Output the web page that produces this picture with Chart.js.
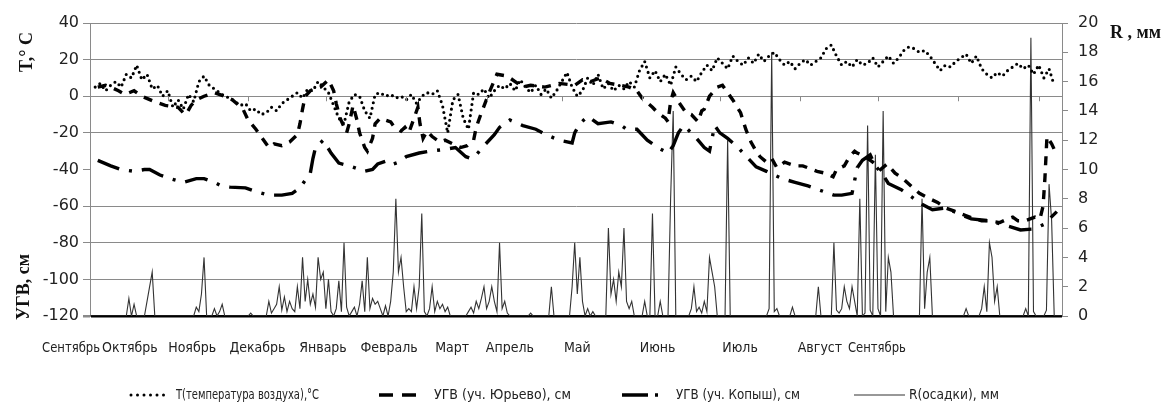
<!DOCTYPE html>
<html>
<head>
<meta charset="utf-8">
<script src="https://cdn.jsdelivr.net/npm/chart.js@4.4.1/dist/chart.umd.min.js"></script>
<style>
  body { margin: 0; background: #fff; }
  #wrap { width: 1170px; height: 408px; position: relative; }
</style>
</head>
<body>
<div id="wrap"><canvas id="chart"></canvas></div>
<script>
// days counted from 1 September
const monthNames = ['Сентябрь', 'Октябрь', 'Ноябрь', 'Декабрь', 'Январь', 'Февраль', 'Март', 'Апрель', 'Май', 'Июнь', 'Июль', 'Август', 'Сентябрь'];
const monthLabelDays = [-7.3, 15.4, 39.4, 64.6, 89.9, 115.4, 139.7, 162, 188, 219, 250.8, 281.6, 303.6];
const monthStartDays = [30, 61, 91, 122, 153, 182, 213, 243, 274, 304, 335, 366];

const leftTicks = [40, 20, 0, -20, -40, -60, -80, -100, -120];
const rightTicks = [0, 2, 4, 6, 8, 10, 12, 14, 16, 18, 20];

// air temperature, every second day from day 2
const tFirstDay = 2, tStep = 2;
const tVals = [5, 7, 3, 6, 8, 5, 12, 10, 17, 9, 12, 4, 6, 0, 3, -6, -2, -7, 1, -3,
  8, 11, 6, 4, 2, 0, -1, -3, -5, -4, -8, -7, -10, -9, -6, -8, -4, -2, 0, 2,
  -1, 4, 3, 8, 5, 2, -5, -12, -15, -3, 1, 0, -8, -12, 1, 2, 0, 1, -1, 0,
  -2, 1, -4, 0, 2, 1, 3, -5, -20, -2, 1, -12, -18, 2, 1, 4, -1, 3, 6, 4,
  7, 3, 9, 5, 2, 6, 1, 4, -1, 3, 8, 13, 5, 0, 3, 10, 6, 12, 4, 7,
  3, 6, 4, 8, 5, 14, 19, 10, 14, 8, 12, 6, 16, 12, 9, 11, 8, 13, 17, 14,
  21, 18, 15, 22, 19, 17, 21, 18, 23, 19, 22, 24, 20, 17, 19, 15, 18, 20, 17, 19,
  21, 26, 28, 22, 17, 19, 16, 20, 17, 18, 21, 16, 19, 22, 18, 21, 25, 27, 26, 24,
  25, 22, 18, 14, 17, 16, 19, 21, 23, 18, 22, 15, 12, 10, 13, 11, 14, 16, 18, 15,
  17, 12, 17, 10, 15, 6];

// groundwater level, Yuryevo
const yurDays = [3, 6, 8, 11, 13.5, 17, 20, 25, 29, 34, 36, 37, 39, 41, 44, 48, 52, 55, 59, 61,
  64, 66, 69, 71, 74, 77, 80, 81, 82, 83, 85, 89, 92, 94, 95, 96.5, 99, 100, 101.5, 103,
  104, 106, 107, 109, 110, 112, 116, 117, 120, 121.5, 123, 126.5, 127.3, 128.5, 130, 132, 135, 137, 143, 145.5,
  148, 149, 151, 154, 157, 161, 164, 167, 170, 175.5, 181, 187, 190, 193, 197, 200.6, 204.5, 208, 211, 213,
  217, 219, 222, 223, 224, 225, 227, 230, 232, 234.6, 236, 237, 239, 242, 244, 246, 248, 251, 253, 255,
  257, 258.5, 261, 263, 265, 268, 272, 275, 280.5, 283.6, 286.7, 288, 291, 293, 295, 296, 299, 302, 305, 307.5,
  310.6, 313.7, 317.5, 320, 324, 327, 330, 334, 337.6, 341.4, 344, 347, 351, 354, 356, 358, 360.7, 362.7, 364.6, 366.5,
  367.7, 368.4, 369.2, 371, 373];
const yurVals = [5, 6, 5, 3, 1, 3, 0, -3, -5, -6, -9, -10, -5, -2, 0, 2, 0, -2, -7, -13,
  -18, -22, -28, -26, -27, -25, -21, -15, -7, 0, 3, 5, 9, 3, -4, -12, -20, -15, -5, -13,
  -20, -28, -30, -23, -15, -12, -14, -16, -19, -17, -20, -6, -15, -23, -19, -22, -25, -24, -28, -27,
  -24, -17, -9, 2, 12, 11, 8, 5, 6, 5, 7, 6, 9, 8, 10, 7, 6, 5, 3, -1,
  -6, -9, -12, -14, -3, 2, -3, -9, -10, -14, -8, -7, 0, 5, 6, 2, -2, -9, -18, -25,
  -30, -33, -36, -34, -39, -36, -38, -38, -41, -42, -44, -40, -38, -33, -30, -31, -33, -36, -40, -37,
  -42, -45, -50, -53, -56, -58, -61, -63, -65, -67, -68, -68, -69, -67, -66, -68, -68, -67, -66, -67,
  -60, -45, -22, -26, -32];

// groundwater level, Kopysh
const kopDays = [3, 8, 12, 17, 21, 23, 27, 31, 36, 41, 44, 48, 50, 54, 60, 64, 69, 74, 78, 81,
  83, 85, 86, 87, 90, 93, 96, 100, 106, 109, 111, 115, 117, 119, 122, 127, 131, 137, 141, 145,
  147, 149, 152, 156, 158, 162, 167, 172, 176, 181, 186, 187, 189, 192, 196, 201, 205, 207, 211, 215,
  219, 223, 225, 227, 229, 232, 234, 237, 239, 241, 243, 246, 250, 254, 257, 261, 267, 272, 277, 283,
  287, 290, 294, 296, 298, 301, 303, 306, 308, 313, 317, 321, 325, 330, 335, 340, 347, 352, 359, 364,
  368, 373];
const kopVals = [-35, -38, -40, -41, -40, -40, -43, -45, -47, -45, -45, -47, -48.5, -49.6, -50, -52, -54, -54, -53, -50,
  -46, -42, -34, -28, -24, -31, -36.5, -38, -41, -40, -37, -35, -37, -36, -33, -31, -30, -29, -28, -33,
  -34, -32, -27, -21, -17, -13, -16, -18, -21, -24, -25.5, -20, -15, -11, -15, -14, -16, -18, -18, -24,
  -28, -31, -27, -20, -16, -20, -23, -28, -30, -16, -20, -23, -28, -34, -38.6, -41, -45, -47, -49, -52,
  -54, -54, -53, -39, -35, -32, -38, -43, -47.6, -51, -55, -59, -62, -61, -64, -67, -68, -70, -73, -72.5,
  -70, -63];

// precipitation, mm
const rDays = [0, 14, 15, 16, 17, 18, 21, 22, 23, 24, 25,
  40, 41, 42, 43, 44, 45, 47, 48, 49, 50, 51, 52, 61, 62, 63,
  68, 69, 70, 71, 72, 73, 74, 75, 76, 77, 78, 79, 80, 81, 82, 83, 84, 85, 86, 87, 88, 89, 90, 91, 92, 93, 94,
  95, 96, 97, 98, 99, 100, 101, 102, 103, 104, 105, 106, 107, 108, 109, 110, 111, 112, 113, 114, 115,
  116, 117, 118, 119, 120, 121, 122, 123, 124, 125, 126, 127, 128, 129, 130, 131, 132, 133, 134, 135, 136, 137, 138, 139,
  145, 146, 147, 148, 149, 150, 151, 152, 153, 154, 155, 156, 157, 158, 159, 160, 161, 162,
  169, 170, 171, 177, 178, 179,
  185, 186, 187, 188, 189, 190, 191, 192, 193, 194, 195,
  199, 200, 201, 202, 203, 204, 205, 206, 207, 208, 209, 210,
  213, 214, 215, 216, 217, 218, 219, 220, 221, 223, 224, 225, 226,
  231, 232, 233, 234, 235, 236, 237, 238, 239, 240, 241, 242, 245, 246, 247,
  261, 262, 263, 264, 265, 266, 270, 271, 272, 280, 281, 282,
  286, 287, 288, 289, 290, 291, 292, 293, 294, 295, 296, 297, 298, 299, 300, 301, 302, 303, 304, 305, 306, 307, 308, 309, 310,
  320, 321, 322, 323, 324, 325, 337, 338, 339,
  343, 344, 345, 346, 347, 348, 349, 350, 351,
  360, 361, 362, 363, 364, 365, 368, 369, 370, 371, 372, 375];
const rVals = [0, 0, 1.2, 0, 0.8, 0, 0, 1.0, 2, 3.0, 0,
  0, 0.6, 0.3, 1.5, 4.0, 0, 0, 0.5, 0, 0.3, 0.8, 0, 0, 0.2, 0,
  0, 1.0, 0.2, 0.5, 0.8, 2.0, 0.4, 1.3, 0.3, 1.0, 0.5, 0.3, 2.0, 0.5, 4.0, 1.0, 2.5, 0.8, 1.5, 0.6, 4.0, 2.5, 3.0, 0.5, 2.5, 0.3, 0,
  0.5, 2.4, 0.3, 5.0, 0.6, 0, 0.3, 0.6, 0, 0.8, 2.4, 0.3, 4.0, 0.5, 1.2, 0.8, 1.0, 0.5, 0, 0.7, 0,
  1.0, 3.0, 8.0, 3.0, 4.0, 2.0, 0.3, 0.5, 0.3, 2.0, 0.5, 2.0, 7.0, 0.3, 0, 0.5, 2.0, 0.3, 1.0, 0.5, 0.8, 0.3, 0.6, 0,
  0, 0.3, 0.6, 0.2, 1.0, 0.5, 1.2, 2.0, 0.5, 1.0, 2.0, 1.0, 0.3, 5.0, 0.5, 1.0, 0.2, 0,
  0, 0.2, 0, 0, 2.0, 0,
  0, 2.0, 5.0, 1.5, 4.0, 1.0, 0, 0.5, 0, 0.3, 0,
  0, 6.0, 1.5, 2.5, 1.0, 3.0, 2.0, 6.0, 1.0, 0.5, 1.0, 0,
  0, 1.0, 0, 0, 7.0, 0, 0, 1.0, 0, 0, 8.0, 14.0, 0,
  0, 0.5, 2.0, 0.3, 0.6, 0.2, 1.0, 0.3, 4.0, 3.0, 2.0, 0, 0, 12.0, 0,
  0, 0.5, 18.0, 0.3, 0.5, 0, 0, 0.6, 0, 0, 2.0, 0,
  0, 5.0, 0.4, 0.2, 0.5, 2.0, 1.0, 0.5, 2.0, 1.0, 0, 8.0, 0, 0.2, 13.0, 0.4, 0, 11.0, 0.5, 0, 14.0, 0.3, 4.0, 3.0, 0,
  0, 8.0, 0.5, 3.0, 4.0, 0, 0, 0.5, 0,
  0, 0.5, 2.0, 0.3, 5.0, 4.0, 1.0, 2.0, 0,
  0, 0.5, 0, 19.0, 0.3, 0, 0, 0.4, 9.0, 6.5, 0, 0];

const legendNames = ['Т(температура воздуха),°С', 'УГВ (уч. Юрьево), см', 'УГВ (уч. Копыш), см', 'R(осадки), мм'];

const pairs = (xs, ys) => xs.map((x, i) => ({ x: x, y: ys[i] }));
const tData = tVals.map((v, i) => ({ x: tFirstDay + i * tStep, y: v }));

const narrowFont = '"DejaVu Sans Condensed", "Liberation Sans", sans-serif';

const textPlugin = {
    id: 'texts',
    afterDraw(chart) {
        const ctx = chart.ctx;
        const xs = chart.scales.x, ys = chart.scales.y;
        ctx.save();

        // small tick marks on the zero line
        const zeroY = ys.getPixelForValue(0);
        ctx.strokeStyle = '#8a8a8a';
        ctx.lineWidth = 1;
        monthStartDays.forEach(d => {
            const px = Math.round(xs.getPixelForValue(d)) + 0.5;
            ctx.beginPath();
            ctx.moveTo(px, zeroY);
            ctx.lineTo(px, zeroY + 5);
            ctx.stroke();
        });

        // month labels
        ctx.fillStyle = '#222';
        ctx.font = '14px ' + narrowFont;
        ctx.textAlign = 'center';
        ctx.textBaseline = 'middle';
        monthNames.forEach((m, i) => {
            ctx.fillText(m, xs.getPixelForValue(monthLabelDays[i]), 348, 58);
        });

        // axis titles
        ctx.font = 'bold 18px "Liberation Serif", "DejaVu Serif", serif';
        ctx.fillStyle = '#111';
        ctx.save();
        ctx.translate(27, 52);
        ctx.rotate(-Math.PI / 2);
        ctx.fillText('T,° C', 0, 0);
        ctx.restore();
        ctx.save();
        ctx.translate(24, 287);
        ctx.rotate(-Math.PI / 2);
        ctx.fillText('УГВ, см', 0, 0);
        ctx.restore();
        ctx.textAlign = 'left';
        ctx.fillText('R , мм', 1110, 33);

        // legend
        const ly = 395;
        ctx.font = '14px ' + narrowFont;
        ctx.textAlign = 'left';
        ctx.fillStyle = '#222';
        ctx.strokeStyle = '#000';

        ctx.lineWidth = 3;
        ctx.lineCap = 'round';
        ctx.setLineDash([0, 6.5]);
        ctx.beginPath(); ctx.moveTo(131, ly); ctx.lineTo(170, ly); ctx.stroke();
        ctx.fillText(legendNames[0], 176, ly, 143);

        ctx.lineWidth = 3.4;
        ctx.lineCap = 'butt';
        ctx.setLineDash([14, 9]);
        ctx.beginPath(); ctx.moveTo(379, ly); ctx.lineTo(425, ly); ctx.stroke();
        ctx.fillText(legendNames[1], 434, ly, 140);

        ctx.setLineDash([26, 7, 3, 20]);
        ctx.beginPath(); ctx.moveTo(622, ly); ctx.lineTo(660, ly); ctx.stroke();
        ctx.fillText(legendNames[2], 676, ly, 124);

        ctx.setLineDash([]);
        ctx.lineWidth = 1.2;
        ctx.strokeStyle = '#333';
        ctx.beginPath(); ctx.moveTo(854, ly); ctx.lineTo(905, ly); ctx.stroke();
        ctx.fillText(legendNames[3], 909, ly, 90);

        ctx.restore();
    }
};

const tickFont = { family: '"DejaVu Sans", sans-serif', size: 16 };

new Chart(document.getElementById('chart'), {
    type: 'line',
    data: {
        datasets: [
            {
                label: legendNames[0],
                data: tData,
                borderColor: '#000',
                borderWidth: 3.1,
                borderDash: [0, 5.6],
                borderCapStyle: 'round',
                pointRadius: 0,
                yAxisID: 'y',
                order: 1
            },
            {
                label: legendNames[1],
                data: pairs(yurDays, yurVals),
                borderColor: '#000',
                borderWidth: 3.4,
                borderDash: [9, 8],
                pointRadius: 0,
                yAxisID: 'y',
                order: 2
            },
            {
                label: legendNames[2],
                data: pairs(kopDays, kopVals),
                borderColor: '#000',
                borderWidth: 3.4,
                borderDash: [23, 10, 3, 10],
                pointRadius: 0,
                yAxisID: 'y',
                order: 3
            },
            {
                label: legendNames[3],
                data: pairs(rDays, rVals),
                borderColor: '#333',
                borderWidth: 1.1,
                pointRadius: 0,
                yAxisID: 'y2',
                order: 4
            }
        ]
    },
    options: {
        responsive: true,
        maintainAspectRatio: false,
        animation: false,
        events: [],
        layout: { padding: { top: 23, left: 0, right: 0, bottom: 0 } },
        plugins: {
            legend: { display: false },
            tooltip: { enabled: false }
        },
        scales: {
            x: {
                type: 'linear',
                min: 0,
                max: 375,
                ticks: { display: false },
                grid: { display: false },
                border: { display: false },
                afterFit: s => { s.height = 92; }
            },
            y: {
                position: 'left',
                min: -120,
                max: 40,
                afterBuildTicks: s => { s.ticks = leftTicks.map(v => ({ value: v })); },
                ticks: { color: '#222', font: tickFont, padding: 4 },
                grid: {
                    color: c => c.tick && c.tick.value === -40 ? 'rgba(0,0,0,0)' : (c.tick && c.tick.value === -120 ? '#000' : '#8a8a8a'),
                    lineWidth: c => c.tick && c.tick.value === -120 ? 2.5 : 1,
                    tickColor: '#8a8a8a',
                    tickLength: 7
                },
                border: { color: '#8a8a8a' },
                afterFit: s => { s.width = 90; }
            },
            y2: {
                position: 'right',
                min: 0,
                max: 20,
                afterBuildTicks: s => { s.ticks = rightTicks.map(v => ({ value: v })); },
                ticks: { color: '#222', font: tickFont, padding: 10 },
                grid: { drawOnChartArea: false, tickColor: '#8a8a8a', tickLength: 6 },
                border: { color: '#8a8a8a' },
                afterFit: s => { s.width = 108; }
            }
        }
    },
    plugins: [textPlugin]
});
</script>
</body>
</html>
